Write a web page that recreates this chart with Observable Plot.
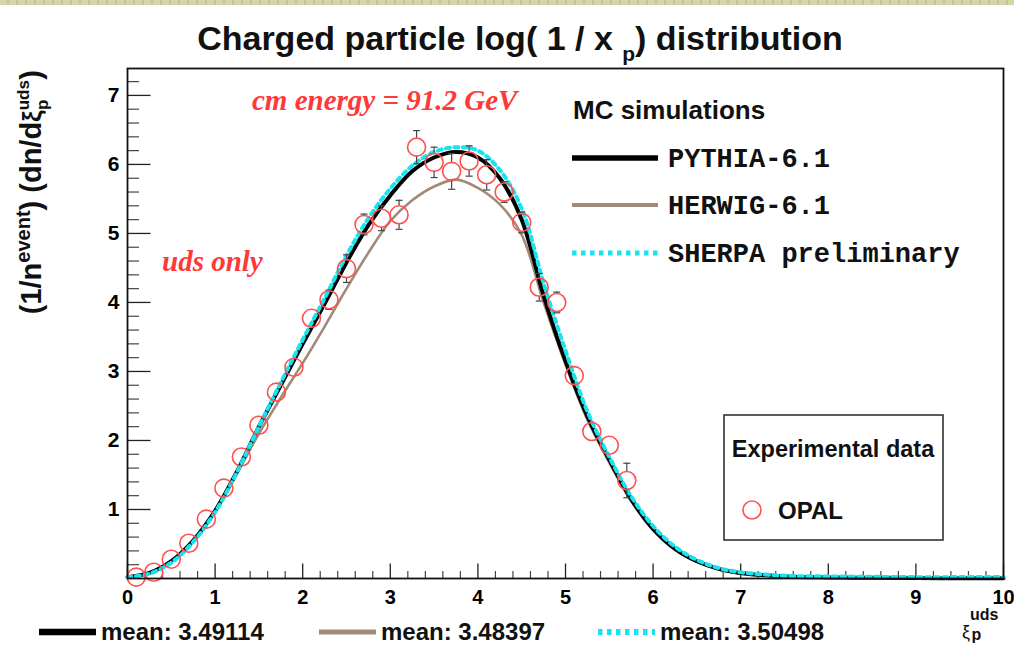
<!DOCTYPE html>
<html><head><meta charset="utf-8">
<script src="https://cdn.jsdelivr.net/npm/d3@7"></script>
<script src="https://cdn.jsdelivr.net/npm/@observablehq/plot@0.6"></script>
<style>
html,body{margin:0;padding:0;background:#fff;}
#wrap{position:relative;width:1014px;height:657px;overflow:hidden;}
#strip{position:absolute;left:0;top:0;width:1014px;height:5px;background:repeating-linear-gradient(90deg,#d8d4aa 0 7px,#c8c398 7px 9px);}
</style></head><body>
<div id="wrap"><div id="chart"></div><div id="strip"></div></div>
<script>
// ---- data ----
const curveX = [0,0.25,0.5,0.75,1,1.25,1.5,1.75,2,2.25,2.5,2.75,3,3.25,3.5,3.75,4,4.25,4.5,4.75,5,5.25,5.5,5.75,6,6.25,6.5,6.75,7,7.5,8,8.5,9,9.5,10];
const pythia = [0.02,0.08,0.25,0.55,0.98,1.55,2.2,2.8,3.4,3.98,4.58,5.12,5.55,5.9,6.1,6.18,6.1,5.8,5.2,4.1,3.15,2.35,1.72,1.15,0.72,0.43,0.25,0.14,0.08,0.03,0.015,0.01,0.006,0.004,0.003];
const herwig = [0.02,0.08,0.25,0.55,0.97,1.52,2.1,2.62,3.12,3.65,4.2,4.72,5.18,5.48,5.68,5.78,5.66,5.42,4.98,4.0,3.1,2.3,1.68,1.12,0.7,0.42,0.24,0.13,0.07,0.03,0.015,0.01,0.006,0.004,0.003];
const sherpa = [0.02,0.07,0.23,0.53,0.96,1.54,2.2,2.84,3.46,4.06,4.68,5.22,5.65,5.98,6.18,6.25,6.2,5.92,5.36,4.28,3.3,2.42,1.76,1.19,0.76,0.46,0.27,0.15,0.09,0.04,0.03,0.025,0.02,0.02,0.02];
const opalX = [0.1,0.3,0.5,0.7,0.9,1.1,1.3,1.5,1.7,1.9,2.1,2.3,2.5,2.7,2.9,3.1,3.3,3.5,3.7,3.9,4.1,4.3,4.5,4.7,4.9,5.1,5.3,5.5,5.7];
const opalY = [0.02,0.09,0.28,0.51,0.86,1.31,1.76,2.22,2.70,3.06,3.77,4.04,4.49,5.13,5.22,5.27,6.25,6.03,5.90,6.05,5.85,5.60,5.16,4.22,4.00,2.94,2.13,1.93,1.42];
const opalErr = [0.01,0.01,0.02,0.03,0.04,0.06,0.07,0.09,0.1,0.12,0.13,0.14,0.2,0.15,0.18,0.21,0.24,0.22,0.26,0.22,0.22,0.15,0.15,0.2,0.15,0.13,0.12,0.12,0.25];
const xTicks = [0,1,2,3,4,5,6,7,8,9,10];
const yTicks = [1,2,3,4,5,6,7];
const seriesNames = ["PYTHIA-6.1","HERWIG-6.1","SHERPA preliminary"];
const meanLabels = ["mean: 3.49114","mean: 3.48397","mean: 3.50498"];
const titleText = ["Charged particle log( 1 / x ", "p", ") distribution"];

// ---- layout ----
const W = 1014, H = 657, mL = 127, mR = 11, mT = 68, mB = 79;
const yMax = 7.39;
const SANS = "'Liberation Sans', Arial, Helvetica, sans-serif";
const colors = {pythia:"#000", herwig:"#a38a78", sherpa:"#19e3ee", opal:"#ff5050"};

const curves = curveX.map((x,i)=>({x, p:pythia[i], h:herwig[i], s:sherpa[i]}));
const opal = opalX.map((x,i)=>({x, y:opalY[i], e:opalErr[i]}));
const yPerUnit = (H - mT - mB) / yMax;
const gapU = 9 / yPerUnit;
const bars = opal.filter(d => d.e > gapU);

const hTick = len => ({draw(c){c.moveTo(0,0); c.lineTo(len,0);}});
const vTick = len => ({draw(c){c.moveTo(0,0); c.lineTo(0,-len);}});
const cap = {draw(c){c.moveTo(-3.5,0); c.lineTo(3.5,0);}};

const yMinor = d3.range(0, yMax, 0.2).filter(v => Math.abs(v - Math.round(v)) > 1e-6);
const xMinor = d3.range(0, 10.001, 0.2).filter(v => Math.abs(v - Math.round(v)) > 1e-6);

const plot = Plot.plot({
  width: W, height: H,
  marginLeft: mL, marginRight: mR, marginTop: mT, marginBottom: mB,
  x: {domain: [0, 10]},
  y: {domain: [0, yMax]},
  style: {fontFamily: SANS, background: "white", overflow: "visible"},
  marks: [
    Plot.dot(yTicks, {x: d=>0, y: d=>d, symbol: hTick(23), stroke: "#222", fill: "none", strokeWidth: 1.3}),
    Plot.dot(yMinor, {x: d=>0, y: d=>d, symbol: hTick(11.5), stroke: "#444", fill: "none", strokeWidth: 1.2}),
    Plot.dot(xTicks, {x: d=>d, y: d=>0, symbol: vTick(15), stroke: "#222", fill: "none", strokeWidth: 1.3}),
    Plot.dot(xMinor, {x: d=>d, y: d=>0, symbol: vTick(7.5), stroke: "#444", fill: "none", strokeWidth: 1.2}),
    Plot.axisY({ticks: yTicks, tickSize: 0, tickPadding: 8, fontSize: 21, fontWeight: "bold", label: null, tickFormat: d=>String(d)}),
    Plot.axisX({ticks: xTicks, tickSize: 0, tickPadding: 11, fontSize: 20, fontWeight: "bold", label: null, tickFormat: d=>String(d)}),
    Plot.line(curves, {x: "x", y: "h", stroke: colors.herwig, strokeWidth: 2.6, curve: "catmull-rom"}),
    Plot.line(curves, {x: "x", y: "p", stroke: colors.pythia, strokeWidth: 4, curve: "catmull-rom"}),
    Plot.line(curves, {x: "x", y: "s", stroke: colors.sherpa, strokeWidth: 4, strokeDasharray: "4,4.5", curve: "catmull-rom"}),
    Plot.ruleX(bars, {x: "x", y1: d=>d.y+gapU, y2: d=>d.y+d.e, stroke: "#444", strokeWidth: 1.2}),
    Plot.ruleX(bars, {x: "x", y1: d=>d.y-gapU, y2: d=>d.y-d.e, stroke: "#444", strokeWidth: 1.2}),
    Plot.dot(bars, {x: "x", y: d=>d.y+d.e, symbol: cap, stroke: "#444", fill: "none", strokeWidth: 1.2}),
    Plot.dot(bars, {x: "x", y: d=>d.y-d.e, symbol: cap, stroke: "#444", fill: "none", strokeWidth: 1.2}),
    Plot.dot(opal, {x: "x", y: "y", r: 9, stroke: colors.opal, fill: "none", strokeWidth: 1.6}),
    Plot.frame({stroke: "#111", strokeWidth: 1.8})
  ]
});
document.getElementById("chart").appendChild(plot);

// ---- annotations & legends ----
const svg = d3.select(plot);
const g = svg.append("g").attr("font-family", SANS).attr("font-weight", "bold").attr("fill", "#111").attr("text-anchor", "start");

// title
const t = g.append("text").attr("x", 520).attr("y", 50).attr("text-anchor", "middle").attr("font-size", 34);
t.append("tspan").text(titleText[0]);
t.append("tspan").attr("font-size", 21).attr("dy", 11).text(titleText[1]);
t.append("tspan").attr("dy", -11).text(titleText[2]);

// y label
const yl = g.append("text").attr("transform", "translate(41,70) rotate(-90)").attr("text-anchor", "end").attr("font-size", 29);
yl.append("tspan").text("(1/n");
yl.append("tspan").attr("font-size", 20).attr("dy", -11).text("event");
yl.append("tspan").attr("dy", 11).text(") (dn/d");
yl.append("tspan").attr("font-size", 26).text("ξ");
yl.append("tspan").attr("font-size", 17).attr("dy", -12).text("uds");
yl.append("tspan").attr("font-size", 17).attr("dx", -30).attr("dy", 19).text("p");
yl.append("tspan").attr("dx", 20).attr("dy", -7).text(")");

// x label
const xl = g.append("text").attr("x", 962).attr("y", 638).attr("font-size", 16);
xl.append("tspan").attr("font-size", 18).attr("font-weight", "normal").text("ξ");
xl.append("tspan").attr("dy", -18).text("uds");
xl.append("tspan").attr("dx", -27).attr("dy", 20).text("p");

// red annotations
const red = g.append("g").attr("font-family", "'Liberation Serif', 'Times New Roman', serif").attr("font-style", "italic").attr("fill", "#ff3838").attr("font-size", 29);
red.append("text").attr("x", 252).attr("y", 110).text("cm energy = 91.2 GeV");
red.append("text").attr("x", 162).attr("y", 271).text("uds only");

// MC legend
const lineStyles = [
  {stroke: colors.pythia, w: 5.5, dash: null},
  {stroke: colors.herwig, w: 4, dash: null},
  {stroke: colors.sherpa, w: 5, dash: "4.5,4.5"}
];
g.append("text").attr("x", 573).attr("y", 119).attr("font-size", 26).text("MC simulations");
const lys = [158, 205, 253];
seriesNames.forEach((name, i) => {
  const s = lineStyles[i];
  g.append("line").attr("x1", 572).attr("x2", 658).attr("y1", lys[i]).attr("y2", lys[i])
    .attr("stroke", s.stroke).attr("stroke-width", s.w).attr("stroke-dasharray", s.dash);
  g.append("text").attr("x", 668).attr("y", lys[i] + 9).attr("font-family", "'Liberation Mono', 'Courier New', monospace")
    .attr("font-size", 27).text(name);
});

// Experimental data box
g.append("rect").attr("x", 724).attr("y", 415).attr("width", 219).attr("height", 125)
  .attr("fill", "white").attr("stroke", "#333").attr("stroke-width", 1.6);
g.append("text").attr("x", 833).attr("y", 457).attr("text-anchor", "middle").attr("font-size", 23.5).text("Experimental data");
g.append("circle").attr("cx", 752).attr("cy", 510).attr("r", 9).attr("fill", "none").attr("stroke", colors.opal).attr("stroke-width", 1.6);
g.append("text").attr("x", 778).attr("y", 519).attr("font-size", 24).text("OPAL");

// bottom mean legend
const bx = [39, 319, 598];
meanLabels.forEach((lab, i) => {
  const s = lineStyles[i];
  g.append("line").attr("x1", bx[i]).attr("x2", bx[i] + 57).attr("y1", 632).attr("y2", 632)
    .attr("stroke", s.stroke).attr("stroke-width", s.w + 1).attr("stroke-dasharray", s.dash);
  g.append("text").attr("x", bx[i] + 62).attr("y", 640).attr("font-size", 24).text(lab);
});
</script>
</body></html>
